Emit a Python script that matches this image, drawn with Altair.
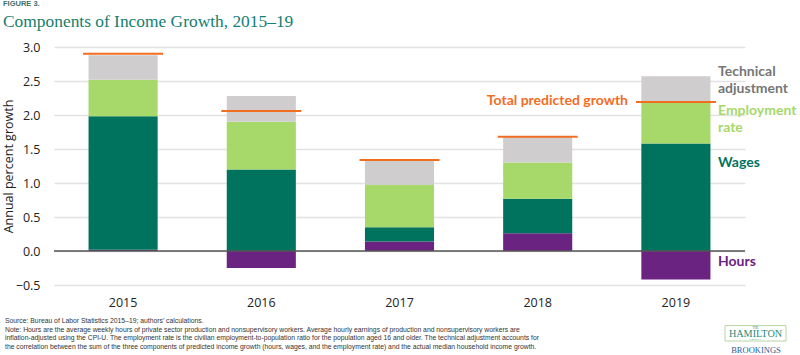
import altair as alt
import pandas as pd

years = ["2015", "2016", "2017", "2018", "2019"]
hours = [0.02, -0.25, 0.14, 0.26, -0.42]
wages = [1.96, 1.20, 0.21, 0.51, 1.58]
employment = [0.54, 0.70, 0.62, 0.53, 0.60]
technical = [0.36, 0.38, 0.37, 0.38, 0.39]
total_predicted = [2.90, 2.06, 1.34, 1.68, 2.19]

components = ["Hours", "Wages", "Employment rate", "Technical adjustment"]
colors = ["#6b2382", "#00735f", "#a6d86a", "#cfcdcd"]
label_colors = ["#6b2382", "#00735f", "#a6d86a", "#767676"]
y_ticks = [-0.5, 0, 0.5, 1, 1.5, 2, 2.5, 3]

note_lines = [
    "Source: Bureau of Labor Statistics 2015\u201319; authors\u2019 calculations.",
    "Note: Hours are the average weekly hours of private sector production and nonsupervisory workers. Average hourly earnings of production and nonsupervisory workers are",
    "inflation-adjusted using the CPI-U. The employment rate is the civilian employment-to-population ratio for the population aged 16 and older. The technical adjustment accounts for",
    "the correlation between the sum of the three components of predicted income growth (hours, wages, and the employment rate) and the actual median household income growth.",
]

rows = []
for i, y in enumerate(years):
    for j, (c, vals) in enumerate(zip(components, [hours, wages, employment, technical])):
        rows.append({"year": y, "component": c, "value": vals[i], "order": j})
df = pd.DataFrame(rows)
tot = pd.DataFrame({"year": years, "total": total_predicted})

W, H = 691, 238
FONT = "Open Sans"
xscale = alt.Scale(domain=years, paddingInner=0.5, paddingOuter=0.25)
yscale = alt.Scale(domain=[-0.5, 3.0], nice=False, zero=False)

xaxis = alt.Axis(labelAngle=0, ticks=False, domain=False, labelFontSize=12.5,
                 labelFont=FONT, labelColor="#222", labelPadding=11, grid=False)
yaxis = alt.Axis(values=y_ticks, format=".1f", labelOverlap=False, labelFlush=False,
                 ticks=False, domain=False, labelFontSize=12.5, labelFont=FONT,
                 labelColor="#222", labelPadding=14, gridColor="#e2e2e2",
                 gridWidth=1.6, titleFont=FONT, titleFontSize=12.5,
                 titleFontWeight="normal", titleColor="#222",
                 titleAngle=-90, titleX=-46, titleY=H / 2, titleAlign="center",
                 titleBaseline="middle")
YTITLE = "Annual percent growth"

bars = alt.Chart(df).mark_bar().encode(
    x=alt.X("year:N", title=None, scale=xscale, axis=xaxis),
    y=alt.Y("value:Q", scale=yscale, stack="zero", title=YTITLE, axis=yaxis),
    color=alt.Color("component:N", scale=alt.Scale(domain=components, range=colors), legend=None),
    order=alt.Order("order:Q"),
)

zero = alt.Chart(pd.DataFrame({"z": [0]})).mark_rule(color="#555555", strokeWidth=1.5).encode(
    y=alt.Y("z:Q", scale=yscale, title=YTITLE, axis=yaxis)
)

ticks = alt.Chart(tot).mark_tick(color="#f26d1f", thickness=2, size=80, opacity=1).encode(
    x=alt.X("year:N", title=None, scale=xscale, axis=xaxis),
    y=alt.Y("total:Q", scale=yscale, title=YTITLE, axis=yaxis),
)


def txt(text, x, y, **kw):
    return alt.Chart(pd.DataFrame({"a": [0]})).mark_text(text=text, **kw).encode(
        x=alt.value(x), y=alt.value(y))


lab_kw = dict(align="left", baseline="middle", font="Lato", fontWeight="bold", fontSize=14)
annotations = [
    txt("Technical", 664, 25, color=label_colors[3], **lab_kw),
    txt("adjustment", 664, 41.5, color=label_colors[3], **lab_kw),
    txt("Employment", 664, 64, color=label_colors[2], **lab_kw),
    txt("rate", 664, 81, color=label_colors[2], **lab_kw),
    txt("Wages", 664, 116, color=label_colors[1], **lab_kw),
    txt("Hours", 664, 215, color=label_colors[0], **lab_kw),
    txt("Total predicted growth", 574, 54, align="right", baseline="middle", font="Lato",
        fontWeight="bold", fontSize=14, color="#f26d1f"),
    txt("FIGURE 3.", -51, -41, align="left", baseline="alphabetic", font="Liberation Sans",
        fontWeight="bold", fontSize=7.5, color="#3d6f6b"),
    txt("Components of Income Growth, 2015\u201319", -51, -20, align="left",
        baseline="alphabetic", font="Liberation Serif", fontSize=17.4, color="#138070"),
    txt(note_lines, -49, 273.7, align="left", baseline="middle", font="Liberation Sans",
        fontSize=6.8, color="#333333", lineHeight=8.9),
]

logo_box = alt.Chart(pd.DataFrame({"a": [0]})).mark_rect(
    fill="white", stroke="#b7d5a0", strokeWidth=1).encode(
    x=alt.value(671), x2=alt.value(732), y=alt.value(278.6), y2=alt.value(294))
logo_kw = dict(align="center", baseline="middle", font="Liberation Serif")
logo = [
    txt("THE", 701.5, 280.2, fontSize=3, color="#1f8a7a", **logo_kw),
    txt("HAMILTON", 701.5, 286.7, fontSize=10.2, color="#1f8a7a", **logo_kw),
    txt("PROJECT", 701.5, 292.6, fontSize=2.8, color="#1f8a7a", **logo_kw),
    txt("BROOKINGS", 702, 303, fontSize=8.5, color="#2d5b96", **logo_kw),
]

chart = alt.layer(bars, zero, ticks, *annotations, logo_box, *logo).properties(
    width=W, height=H,
    autosize=alt.AutoSizeParams(type="none"),
    padding={"left": 54, "top": 47, "right": 55, "bottom": 70},
).configure(background="white").configure_view(stroke=None)

chart.save("out.html", embed_options={"renderer": "svg", "actions": False})
